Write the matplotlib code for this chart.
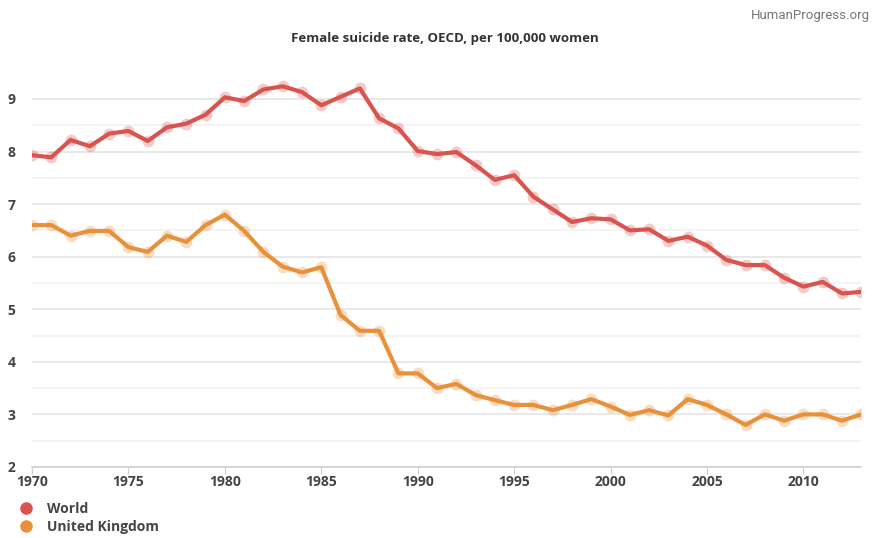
import matplotlib.pyplot as plt
from matplotlib.lines import Line2D

years = list(range(1970, 2014))
world = [7.93, 7.89, 8.22, 8.10, 8.34, 8.39, 8.20, 8.46, 8.53, 8.70,
         9.03, 8.96, 9.18, 9.24, 9.13, 8.88, 9.04, 9.20, 8.63, 8.44,
         8.01, 7.95, 7.99, 7.74, 7.46, 7.55, 7.14, 6.90, 6.66, 6.73,
         6.71, 6.50, 6.52, 6.30, 6.38, 6.21, 5.94, 5.84, 5.84, 5.60,
         5.43, 5.52, 5.30, 5.33]
uk = [6.60, 6.60, 6.40, 6.49, 6.49, 6.18, 6.09, 6.40, 6.28, 6.60,
      6.80, 6.49, 6.09, 5.81, 5.70, 5.80, 4.89, 4.59, 4.59, 3.78,
      3.78, 3.50, 3.58, 3.37, 3.27, 3.18, 3.18, 3.08, 3.18, 3.29,
      3.15, 2.99, 3.08, 2.98, 3.29, 3.18, 3.00, 2.80, 3.00, 2.88,
      3.00, 3.00, 2.88, 3.00]
series = [("World", world, "#d9534f"), ("United Kingdom", uk, "#e8903a")]
yticks = [2, 3, 4, 5, 6, 7, 8, 9]
xticks = [1970, 1975, 1980, 1985, 1990, 1995, 2000, 2005, 2010]

plt.rcParams['font.family'] = ['Open Sans', 'DejaVu Sans']

fig = plt.figure(figsize=(8.72, 5.38), dpi=100)
ax = fig.add_axes([0.0367, 0.132, 0.951, 0.733])

for name, vals, col in series:
    ax.plot(years, vals, 'o', color=col, alpha=0.3, markersize=8.5,
            markeredgewidth=0, zorder=3)
    ax.plot(years, vals, '-', color=col, linewidth=3, zorder=4,
            solid_joinstyle='round')

ax.set_xlim(1970, 2013)
ax.set_ylim(2, 9.5)

# grid lines, integers a bit darker than halves
for v in range(2, 10):
    ax.axhline(v, color='#e4e4e4', linewidth=1.2, zorder=1)
for v in range(2, 9):
    ax.axhline(v + 0.5, color='#f2f2f2', linewidth=1.2, zorder=1)

for s in ['top', 'right', 'left']:
    ax.spines[s].set_visible(False)
ax.spines['bottom'].set_color('#d0d0d0')
ax.spines['bottom'].set_linewidth(1.2)

ax.set_xticks(xticks)
ax.set_xticklabels([str(x) for x in xticks])
ax.set_yticks(yticks)
ax.tick_params(axis='x', length=5, color='#d0d0d0', pad=1, labelsize=10,
               labelcolor='#444444')
ax.tick_params(axis='y', length=0, pad=12, labelsize=10, labelcolor='#444444')
for lab in ax.get_xticklabels() + ax.get_yticklabels():
    lab.set_fontweight('bold')

fig.text(0.51, 0.929, "Female suicide rate, OECD, per 100,000 women",
         ha='center', va='center', fontsize=9.5, fontweight='bold', color='#333333')
fig.text(0.997, 0.972, "HumanProgress.org", ha='right', va='center',
         fontsize=9.5, color='#777777', family=['Roboto', 'DejaVu Sans'])

handles = [Line2D([], [], marker='o', linestyle='none', color=c, markersize=8,
                  label=n) for n, _, c in series]
leg = fig.legend(handles=handles, loc='upper left', bbox_to_anchor=(0.0, 0.09),
                 frameon=False, handletextpad=0.5, labelspacing=0.3,
                 prop={'size': 10, 'weight': 'bold'})
for t in leg.get_texts():
    t.set_color('#444444')

fig.savefig('out.png', dpi=100, facecolor='white')
